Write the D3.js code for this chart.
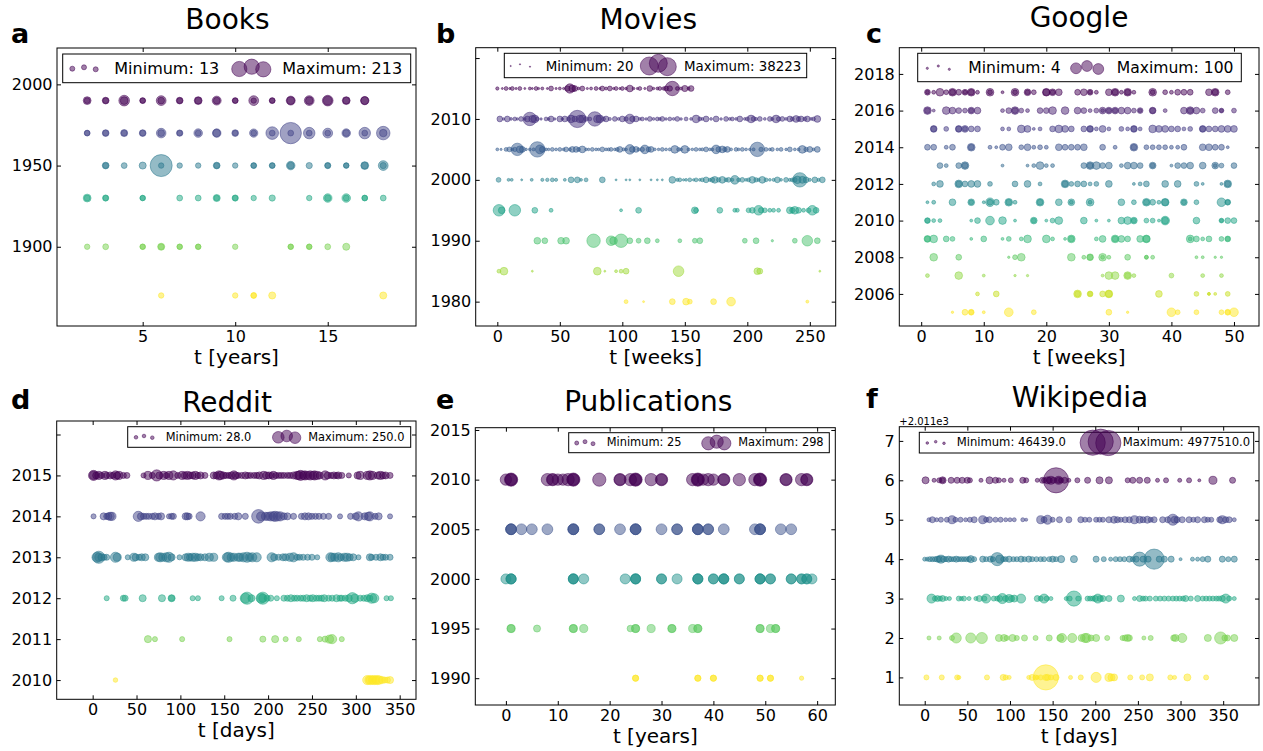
<!DOCTYPE html>
<html>
<head>
<meta charset="utf-8">
<script src="https://cdn.jsdelivr.net/npm/d3@7"></script>
<style>
  body { margin: 0; background: #fff; }
  svg { display: block; font-family: "DejaVu Sans", sans-serif; }
</style>
</head>
<body>
<script>
// ---- data: one row per year, each point is [t, count] ----

// a  Books
const booksYears = [1990, 1970, 1950, 1930, 1900, 1870];
const booksPoints = [
  [[2,27],[2,15],[3,20],[3,15],[4,50],[4,27],[5,15],[5,13],[6,42],[6,20],[7,20],[7,15],[8,27],[8,20],[9,35],[9,20],[10,15],[10,13],[11,42],[11,13],[12,15],[12,13],[13,35],[13,27],[14,42],[14,25],[15,50],[15,35],[16,27],[16,20],[17,30],[17,27]],
  [[2,15],[2,13],[3,20],[3,15],[4,22],[4,15],[5,20],[5,15],[6,40],[6,20],[7,18],[7,13],[8,32],[8,15],[9,32],[9,25],[10,20],[10,13],[11,30],[11,15],[12,70],[12,15],[13,200],[13,15],[14,58],[14,15],[15,42],[15,15],[16,32],[16,20],[17,58],[17,15],[18,80],[18,25]],
  [[3,20],[3,15],[4,15],[5,22],[6,213],[6,13],[7,13],[8,13],[9,20],[9,15],[10,13],[11,15],[11,13],[12,15],[12,13],[13,32],[13,20],[14,17],[15,17],[15,13],[16,13],[16,13],[17,27],[17,20],[18,42],[18,17]],
  [[2,27],[2,15],[3,17],[3,13],[5,13],[5,13],[7,15],[8,15],[9,22],[9,13],[10,17],[10,13],[11,13],[12,17],[14,13],[15,32],[15,17],[16,32],[16,15],[17,15],[17,13],[18,15]],
  [[2,13],[3,15],[5,13],[5,13],[6,22],[6,15],[7,13],[7,13],[8,13],[8,13],[10,13],[13,13],[13,13],[14,13],[14,13],[15,15],[16,22]],
  [[6,13],[10,13],[11,15],[11,13],[12,22],[18,22]]
];

// b  Movies
const moviesYears = [2015, 2010, 2005, 2000, 1995, 1990, 1985, 1980];
const moviesPoints = [
  [[0,1100],[4,400],[7,1500],[10,500],[12,1500],[15,500],[18,1500],[22,400],[26,900],[28,400],[31,1500],[33,500],[36,900],[40,400],[43,2400],[47,500],[50,900],[53,500],[56,3000],[58,9000],[60,5000],[62,3400],[65,800],[68,2400],[72,500],[75,900],[79,1500],[82,500],[84,2400],[87,900],[90,2400],[93,500],[95,1500],[98,500],[100,1500],[103,700],[106,4700],[109,700],[112,500],[114,1500],[118,500],[122,3400],[125,600],[128,900],[130,1500],[133,1200],[135,2400],[138,3000],[140,21500],[144,1500],[147,900],[150,4000],[153,900],[155,3400]],
  [[2,3400],[5,600],[8,3400],[11,800],[14,1500],[16,600],[19,2400],[22,700],[24,3400],[26,18700],[28,5000],[30,6100],[32,1500],[35,600],[39,1500],[41,700],[43,3400],[46,600],[50,3400],[52,700],[54,3400],[57,1500],[59,6100],[62,3400],[64,31000],[66,6000],[68,6100],[71,2000],[74,1500],[78,21500],[80,6000],[82,6100],[85,1500],[87,3400],[90,1000],[94,2400],[97,800],[100,3400],[103,2000],[106,9500],[108,3000],[111,3400],[114,800],[116,1500],[119,700],[122,2400],[125,800],[128,1500],[130,800],[132,2400],[135,700],[138,1500],[141,800],[144,2400],[147,700],[151,1500],[155,800],[159,6100],[162,1500],[164,800],[167,3400],[171,800],[175,3400],[179,700],[183,2400],[186,800],[188,1500],[191,800],[194,3400],[198,800],[200,1500],[203,6100],[205,2400],[207,1000],[210,2400],[214,800],[218,2400],[220,1000],[223,6100],[225,2000],[228,2400],[231,800],[234,3400],[236,1500],[239,4700],[241,2000],[243,3400],[246,1500],[248,3400],[251,800],[253,1500],[256,4700]],
  [[0,860],[3,500],[7,1530],[9.6,2400],[12,800],[14,2000],[16,16000],[18,5000],[20,3440],[23,700],[26,800],[29,1000],[32,24500],[34,8000],[36,3440],[39,800],[41,700],[44,1530],[47,800],[50,1530],[53,800],[55,2400],[58,1000],[60,3440],[63,3440],[65,1500],[68,4700],[71,800],[73,700],[76,1530],[79,800],[81,700],[84,2400],[87,800],[89,1000],[91,1530],[94,800],[96,1500],[98,3440],[101,1000],[103,800],[106,9500],[108,3400],[111,3440],[113,1000],[116,2000],[118,7700],[121,2500],[123,3440],[126,800],[129,700],[132,1530],[135,800],[138,1000],[142,6100],[145,1500],[147,900],[150,6100],[153,1000],[156,700],[159,1530],[162,800],[164,1000],[167,2400],[170,800],[172,1000],[175,7700],[177,3000],[180,4700],[182,2000],[184,3440],[187,900],[191,1530],[193,800],[196,1530],[199,800],[202,700],[205,1000],[208,21500],[211,2000],[215,1530],[218,800],[220,1530],[224,800],[227,1530],[231,700],[234,2400],[238,800],[241,1000],[244,6100],[247,2000],[250,3440],[253,800],[256,3440]],
  [[1,2400],[9,860],[11.5,860],[19.5,400],[27.5,860],[36,1000],[40,1200],[44,1530],[47,1000],[54,860],[59,3440],[64,3440],[67,800],[71,1530],[84,3440],[95,382],[103,382],[106,382],[114,382],[123,382],[128,382],[132,382],[140,4680],[144,1000],[146,1530],[149,600],[151,800],[154,1530],[157,600],[159,1530],[162,800],[164,1500],[167,3440],[170,1000],[172,2400],[174,4680],[177,2000],[180,4680],[183,1500],[185,2400],[188,1000],[190,7700],[193,1500],[196,2400],[199,800],[201,1500],[204,4680],[207,2000],[209,1000],[212,4680],[215,1500],[218,800],[221,1000],[224,3440],[227,800],[231,2400],[234,1000],[236,1500],[238,2400],[240,6000],[242,21500],[244,5000],[247,3440],[250,1000],[254,3440],[257,1000],[260,3440]],
  [[1.3,13760],[3.5,4680],[14,13760],[30,3440],[43,1530],[99,860],[113,3440],[158,4680],[159,2400],[178,3440],[190,1530],[192,1530],[201,2400],[204,3440],[209,9560],[211,3000],[214,2390],[218,1530],[221,1530],[225,1530],[234,4680],[236,3000],[238,6120],[241,3440],[245,1530],[249,2390],[252,9560],[255,3440]],
  [[32,4680],[38,3440],[51,4680],[55,4680],[77,18730],[91,9560],[93,6120],[99,18730],[106,3440],[113,2390],[120,3440],[128,1530],[146,1530],[158,2390],[162,3440],[198,2390],[207,3440],[220,550],[238,2390],[248,11560],[256,3440]],
  [[1.3,1530],[5.3,6120],[28,382],[80,6120],[86,382],[95,860],[99,1530],[103,3440],[145,11560],[208,4680],[210,3440],[258,382]],
  [[103,1530],[117,382],[140,3440],[151,4680],[154,2390],[173,3440],[187,7740],[248,860]]
];

// c  Google
const googleYears = [2017, 2016, 2015, 2014, 2013, 2012, 2011, 2010, 2009, 2008, 2007, 2006, 2005];
const googlePoints = [
  [[1,36],[1,16],[2,16],[3,64],[4,25],[5,64],[5,36],[6,36],[7,36],[7,16],[8,64],[8,36],[9,16],[11,64],[11,25],[13,9],[15,64],[15,25],[17,49],[17,25],[18,25],[20,64],[20,49],[21,49],[21,25],[22,49],[25,36],[26,49],[27,36],[27,16],[28,16],[30,49],[31,64],[31,36],[32,16],[33,64],[33,36],[34,16],[37,64],[37,25],[39,25],[40,16],[41,36],[42,36],[43,36],[46,49],[47,64],[47,36],[49,25]],
  [[1,64],[1,36],[2,9],[4,64],[5,49],[6,36],[7,25],[8,49],[8,25],[9,49],[13,16],[14,36],[15,64],[15,36],[16,25],[17,16],[19,36],[20,36],[21,64],[23,64],[25,49],[26,36],[27,16],[28,25],[29,49],[29,16],[30,49],[30,25],[31,49],[31,25],[32,49],[33,49],[34,25],[35,36],[35,16],[37,49],[37,36],[39,16],[42,49],[43,64],[43,36],[44,49],[45,25],[47,36],[48,25],[48,16],[50,25]],
  [[2,49],[2,36],[4,25],[6,49],[6,36],[7,49],[7,25],[8,36],[9,36],[13,16],[14,16],[16,64],[17,49],[18,9],[19,16],[21,36],[22,64],[23,49],[24,36],[26,36],[27,49],[27,36],[28,16],[29,49],[30,16],[32,25],[33,16],[34,49],[34,36],[35,16],[37,64],[38,49],[39,49],[40,36],[41,36],[42,16],[43,25],[45,49],[45,36],[46,36],[47,36],[48,49],[49,49],[50,49]],
  [[1,36],[2,36],[4,16],[5,36],[8,64],[8,36],[11,16],[12,9],[13,36],[14,49],[16,25],[17,49],[18,16],[19,25],[20,16],[22,49],[23,36],[24,36],[25,36],[26,49],[29,36],[31,16],[34,64],[34,36],[36,25],[37,25],[38,25],[39,25],[40,16],[41,16],[42,36],[45,49],[46,49],[47,36],[48,36],[49,9]],
  [[3,36],[4,16],[6,36],[7,64],[7,36],[13,9],[17,9],[18,16],[19,64],[20,16],[21,16],[26,36],[27,64],[27,36],[28,64],[29,36],[30,49],[32,16],[33,49],[34,49],[35,36],[37,49],[37,25],[40,9],[41,36],[42,36],[43,49],[45,49],[47,49],[47,16],[48,25],[50,36]],
  [[2,16],[3,49],[6,64],[6,36],[7,36],[8,49],[9,49],[11,25],[15,36],[17,49],[19,16],[23,64],[23,36],[24,25],[25,36],[26,36],[27,16],[28,25],[30,49],[34,9],[35,16],[36,36],[39,49],[41,49],[44,25],[45,9],[48,9],[49,64],[49,36]],
  [[1,9],[2,16],[5,49],[8,49],[8,25],[10,9],[11,81],[11,36],[12,36],[14,64],[14,36],[15,16],[19,64],[19,36],[22,49],[24,49],[24,16],[27,64],[27,16],[32,49],[34,25],[36,64],[36,36],[37,36],[38,16],[39,64],[39,49],[42,49],[42,25],[44,25],[48,81],[49,36],[49,25]],
  [[1,36],[1,25],[2,16],[3,16],[8,9],[9,36],[11,81],[13,64],[15,9],[18,49],[18,25],[20,9],[21,25],[22,64],[26,49],[28,9],[30,9],[32,49],[33,64],[34,49],[34,25],[36,25],[37,25],[38,9],[39,81],[39,49],[44,49],[48,25],[48,16],[49,36],[50,36]],
  [[1,49],[1,36],[2,64],[4,36],[5,25],[8,9],[10,36],[13,9],[14,25],[16,16],[17,64],[20,64],[21,16],[23,9],[24,64],[24,36],[28,16],[29,49],[31,64],[31,36],[32,49],[33,36],[35,49],[36,64],[36,49],[43,64],[43,16],[44,36],[45,16],[46,36],[48,25],[49,36],[49,25]],
  [[2,64],[6,36],[14,6],[15,25],[16,64],[24,64],[26,16],[27,49],[27,36],[29,64],[29,16],[30,16],[33,36],[36,16],[36,16],[37,16],[44,9],[45,9],[47,6],[48,6]],
  [[1,16],[6,64],[10,9],[15,6],[17,6],[29,9],[30,64],[31,64],[33,64],[33,36],[34,16],[40,25],[45,16],[48,16]],
  [[9,16],[12,36],[25,64],[25,36],[27,36],[27,25],[29,36],[30,64],[30,49],[38,49],[44,25],[46,9],[46,9],[47,9],[49,25]],
  [[5,6],[7,36],[8,36],[8,25],[10,9],[14,81],[18,25],[30,36],[33,6],[40,81],[41,25],[44,25],[48,25],[49,36],[49,25],[50,81]]
];

// d  Reddit
const redditYears = [2015, 2014, 2013, 2012, 2011, 2010];
const redditPoints = [
  [[1,139],[1,89],[4,68],[7,89],[10,50],[14,89],[16,50],[20,68],[23,50],[26,113],[28,68],[30,89],[35,50],[39,50],[58,35],[63,89],[68,50],[73,169],[76,68],[81,89],[84,50],[87,89],[92,113],[97,50],[102,89],[105,68],[108,89],[111,68],[114,68],[117,89],[120,50],[123,68],[128,50],[138,68],[141,68],[144,113],[146,89],[149,68],[152,50],[155,50],[158,68],[161,113],[163,68],[166,50],[170,50],[174,68],[177,50],[180,50],[184,50],[187,50],[190,68],[195,89],[198,68],[201,68],[204,50],[206,89],[209,50],[212,50],[215,50],[218,50],[222,50],[225,50],[229,68],[233,89],[235,89],[237,139],[240,89],[242,113],[245,89],[248,113],[251,89],[253,113],[256,89],[259,68],[265,113],[268,68],[272,50],[275,68],[278,50],[280,68],[284,50],[292,35],[302,68],[305,89],[313,89],[316,113],[319,89],[325,68],[328,89],[331,68],[334,68],[339,50]],
  [[1,35],[12.5,68],[16,50],[18,68],[20,89],[22,89],[52,139],[55,68],[58,50],[61,50],[64,50],[68,50],[71,68],[75,50],[78,68],[87,35],[90,50],[92,50],[106,68],[108,68],[110,50],[123,113],[147,50],[151,50],[154,50],[157,50],[162,50],[166,68],[174,50],[189,250],[192,113],[197,89],[200,89],[203,113],[206,113],[208,139],[211,113],[214,113],[218,68],[222,68],[229,50],[238,50],[242,68],[246,68],[250,50],[254,50],[258,50],[263,50],[269,50],[282,35],[294,50],[300,68],[303,113],[310,68],[314,89],[316,113],[322,50],[326,68],[339,35]],
  [[5,139],[7,200],[7,89],[10,68],[13,50],[16,50],[26,139],[28,89],[40,35],[47,89],[49,68],[53,50],[56,68],[60,68],[75,89],[77,113],[80,89],[84,113],[87,139],[90,68],[99,35],[106,68],[109,89],[111,68],[114,89],[117,89],[120,68],[123,68],[128,68],[133,89],[138,89],[153,113],[155,139],[158,89],[161,89],[166,89],[168,89],[172,113],[176,139],[179,89],[182,113],[187,113],[204,113],[207,68],[212,50],[217,68],[220,68],[225,89],[229,113],[233,50],[236,50],[240,50],[245,50],[250,50],[256,35],[271,113],[273,89],[276,89],[280,113],[283,68],[287,89],[290,89],[293,68],[297,68],[303,35],[316,68],[318,50],[323,50],[328,68],[331,50],[334,50],[339,50]],
  [[16,35],[35,50],[37,50],[57,68],[79,68],[90,68],[90,50],[114,35],[120,35],[147,35],[160,50],[174,139],[176,200],[181,68],[192,139],[194,200],[194,89],[199,50],[203,50],[210,35],[218,50],[222,50],[226,68],[230,50],[233,50],[237,50],[240,50],[244,68],[248,50],[251,68],[255,50],[258,50],[261,50],[264,68],[269,50],[273,50],[278,68],[282,50],[284,50],[288,50],[292,68],[296,169],[299,89],[305,50],[309,50],[313,68],[316,50],[318,139],[321,113],[335,35],[340,35]],
  [[63,68],[71,35],[102,35],[156,35],[194,50],[208,68],[220,35],[235,35],[259,35],[265,50],[270,89],[273,113],[284,35]],
  [[26,28],[313,113],[315,89],[317,113],[319,89],[321,113],[323,89],[325,113],[327,89],[330,68],[333,50],[336,50],[339,68]]
];

// e  Publications
const pubsYears = [2010, 2005, 2000, 1995, 1990];
const pubsPoints = [
  [[0,207],[1,243],[1,207],[1,282],[8,243],[9,243],[9,207],[10,207],[11,207],[12,243],[13,282],[13,243],[13,207],[18,282],[22,243],[22,207],[24,243],[25,282],[25,243],[25,207],[28,243],[30,243],[30,207],[36,243],[37,282],[37,243],[37,207],[38,207],[39,243],[40,207],[42,243],[42,207],[45,243],[48,243],[49,282],[49,243],[49,207],[54,243],[54,207],[57,243],[58,243],[58,207]],
  [[1,190],[1,187],[1,180],[3,187],[5,187],[8,187],[13,190],[13,187],[13,180],[18,187],[18,180],[22,187],[25,190],[25,187],[25,180],[30,187],[33,187],[33,180],[37,190],[37,187],[37,180],[39,187],[39,180],[42,187],[48,187],[49,190],[49,187],[49,180],[53,187],[55,187]],
  [[0,162],[1,165],[1,162],[1,158],[13,165],[13,162],[13,158],[15,162],[23,162],[25,165],[25,162],[25,158],[30,162],[30,158],[33,162],[37,165],[37,162],[37,158],[40,162],[40,158],[42,165],[42,162],[42,158],[45,162],[45,158],[49,165],[49,162],[49,158],[51,162],[51,158],[55,162],[55,158],[57,162],[57,158],[58,162],[58,158],[59,162]],
  [[1,106],[1,100],[6,80],[13,106],[13,100],[15,106],[24,70],[25,106],[25,100],[28,106],[32,106],[32,100],[36,106],[37,106],[37,100],[49,106],[49,100],[51,106],[52,106],[52,100]],
  [[25,63],[25,60],[37,63],[37,60],[40,63],[40,60],[49,63],[49,60],[51,63],[51,60],[57,30]]
];

// f  Wikipedia
const wikiYears = [2017, 2016, 2015, 2014, 2013, 2012];
const wikiPoints = [
  [[1,378000],[11,123000],[17,193000],[21,378000],[21,193000],[31,278000],[38,278000],[44,278000],[50,278000],[53,193000],[66,123000],[76,378000],[83,278000],[87,193000],[93,123000],[101,193000],[115,278000],[119,193000],[132,123000],[138,278000],[140,193000],[144,378000],[146,278000],[148,494000],[151,278000],[154,4820000],[157,494000],[157,278000],[160,193000],[164,278000],[169,123000],[179,193000],[191,278000],[205,378000],[216,378000],[238,193000],[244,278000],[252,278000],[261,278000],[273,123000],[283,193000],[299,123000],[310,193000],[322,69000],[338,494000],[361,278000]],
  [[5,123000],[9,278000],[14,123000],[19,193000],[26,193000],[32,494000],[36,193000],[42,193000],[48,123000],[53,193000],[58,278000],[68,494000],[72,193000],[76,278000],[83,193000],[89,193000],[95,123000],[100,123000],[105,123000],[115,123000],[119,69000],[136,494000],[140,278000],[144,625000],[150,193000],[158,278000],[169,278000],[183,278000],[188,193000],[193,193000],[201,193000],[205,193000],[209,193000],[216,278000],[222,378000],[226,278000],[230,193000],[235,278000],[240,278000],[246,494000],[252,378000],[256,278000],[261,378000],[265,193000],[269,278000],[279,278000],[285,278000],[291,934000],[293,378000],[296,278000],[302,278000],[310,278000],[315,193000],[320,278000],[328,278000],[332,193000],[336,193000],[346,278000],[349,494000],[353,278000],[357,278000],[363,123000]],
  [[0,123000],[3,123000],[6,193000],[9,193000],[12,193000],[15,278000],[17,278000],[19,494000],[22,278000],[25,193000],[28,278000],[31,193000],[34,193000],[37,278000],[40,193000],[43,193000],[46,193000],[49,193000],[52,193000],[54,378000],[58,193000],[68,278000],[72,193000],[77,278000],[80,193000],[85,1300000],[88,494000],[92,193000],[95,193000],[99,278000],[104,193000],[108,193000],[113,278000],[117,193000],[122,278000],[126,193000],[131,193000],[136,193000],[140,193000],[146,193000],[150,278000],[154,193000],[160,378000],[175,378000],[201,278000],[210,193000],[218,123000],[224,193000],[229,193000],[234,193000],[240,278000],[244,193000],[248,278000],[252,1510000],[256,278000],[262,278000],[269,3090000],[275,278000],[281,278000],[289,278000],[300,69000],[314,123000],[320,123000],[326,193000],[332,278000],[349,278000],[356,193000],[363,278000]],
  [[8,625000],[12,193000],[15,278000],[18,193000],[21,278000],[25,123000],[29,123000],[40,193000],[43,123000],[46,193000],[52,123000],[60,123000],[64,278000],[70,193000],[72,625000],[81,193000],[85,193000],[88,278000],[91,771000],[95,278000],[99,494000],[102,278000],[105,378000],[113,625000],[132,278000],[136,193000],[140,625000],[143,193000],[148,123000],[166,123000],[170,193000],[175,1740000],[180,193000],[191,193000],[194,193000],[197,193000],[200,278000],[203,625000],[206,278000],[209,278000],[216,278000],[230,378000],[246,123000],[252,278000],[256,193000],[259,193000],[264,193000],[271,193000],[276,193000],[281,193000],[286,193000],[291,193000],[295,193000],[299,193000],[303,193000],[306,278000],[312,193000],[320,278000],[326,193000],[330,193000],[334,193000],[338,193000],[342,193000],[345,193000],[349,278000],[353,625000],[357,193000],[363,123000]],
  [[5,123000],[17,123000],[32,193000],[37,771000],[54,771000],[67,934000],[87,378000],[93,378000],[96,193000],[103,378000],[108,193000],[117,278000],[130,193000],[146,278000],[159,378000],[161,625000],[173,625000],[184,378000],[188,625000],[190,625000],[195,278000],[201,378000],[214,193000],[232,193000],[235,278000],[238,378000],[240,278000],[257,123000],[265,193000],[292,278000],[294,378000],[302,625000],[332,378000],[347,1110000],[352,278000],[355,278000],[363,378000]],
  [[2,193000],[20,193000],[38,193000],[40,123000],[73,193000],[92,278000],[95,193000],[99,123000],[122,123000],[126,278000],[130,193000],[132,123000],[136,193000],[142,4820000],[142,278000],[144,278000],[148,193000],[154,278000],[171,123000],[183,193000],[201,771000],[216,494000],[219,378000],[222,378000],[241,193000],[255,193000],[264,378000],[288,193000],[293,123000],[308,378000],[330,193000]]
];

// legend extremes (as printed)
const legendMin = ["13", "20", "4", "28.0", "25", "46439.0"];
const legendMax = ["213", "38223", "100", "250.0", "298", "4977510.0"];
const titles = ["Books", "Movies", "Google", "Reddit", "Publications", "Wikipedia"];
const letters = ["a", "b", "c", "d", "e", "f"];
const xLabels = ["t [years]", "t [weeks]", "t [weeks]", "t [days]", "t [years]", "t [days]"];

// ---- layout ----
const panels = [
  { years: booksYears, points: booksPoints, vmax: 213, rmax: 11,
    box: [57, 48, 416, 326], xDomain: [0.37, 19.77], yDomain: [1851.2, 2022.4],
    xTicks: [5, 10, 15], yTicks: [1900, 1950, 2000], yHide: [],
    title: [227.5, 29.3], letter: [11, 42.7],
    legend: { box: [62.7, 54, 410.7, 82.7], font: 16, base: 74, minX: 114.3, maxX: 282.3,
      small: [[72.3, 68.7, 2.5], [84, 67.3, 2.5], [95.7, 69.3, 2.5]],
      big: [[239.3, 69, 7.6], [251.7, 66.7, 7.6], [263.3, 69.3, 7.6]] } },
  { years: moviesYears, points: moviesPoints, vmax: 38223, rmax: 9.6,
    box: [475.7, 47.7, 835.7, 326], xDomain: [-17.3, 270.7], yDomain: [1976, 2021.7],
    xTicks: [0, 50, 100, 150, 200, 250], yTicks: [1980, 1990, 2000, 2010, 2020], yHide: [2020],
    title: [648.3, 29.3], letter: [436, 43.3],
    legend: { box: [504.3, 53.3, 806.7, 77.7], font: 13.4, base: 70.5, minX: 545.7, maxX: 684,
      small: [[510.7, 66, 0.6], [520, 64.3, 0.6], [530, 66.7, 0.6]],
      big: [[649.3, 66, 9], [658.3, 63.3, 9], [667.3, 66.7, 9]] } },
  { years: googleYears, points: googlePoints, vmax: 100, rmax: 4.8,
    box: [899.3, 47.7, 1259, 326], xDomain: [-3.5, 54], yDomain: [2004.25, 2019.43],
    xTicks: [0, 10, 20, 30, 40, 50], yTicks: [2006, 2008, 2010, 2012, 2014, 2016, 2018], yHide: [],
    title: [1079, 27], letter: [866, 43.3],
    legend: { box: [917.7, 53.3, 1241.3, 81.7], font: 15.6, base: 73.3, minX: 968.3, maxX: 1116.7,
      small: [[927.3, 68.3, 1.1], [938.3, 66, 1.1], [949.3, 69.3, 1.1]],
      big: [[1076, 68.3, 5.4], [1087, 66, 5.4], [1098.3, 69, 5.4]] } },
  { years: redditYears, points: redditPoints, vmax: 250, rmax: 6.8,
    box: [56.7, 421, 416, 699.3], xDomain: [-41, 368.6], yDomain: [2009.53, 2016.33],
    xTicks: [0, 50, 100, 150, 200, 250, 300, 350], yTicks: [2010, 2011, 2012, 2013, 2014, 2015, 2016], yHide: [2016],
    title: [227, 411.5], letter: [11, 409.3],
    legend: { box: [127.7, 426.7, 410.7, 447.3], font: 11.4, base: 440.7, minX: 165.7, maxX: 308.3,
      small: [[136, 437.3, 1.8], [144, 436, 1.8], [152.3, 437.7, 1.8]],
      big: [[278.3, 437.3, 5.8], [286.7, 436, 5.8], [295, 437.7, 5.8]] } },
  { years: pubsYears, points: pubsPoints, vmax: 298, rmax: 6.8,
    box: [475.3, 427.7, 835.3, 705], xDomain: [-5.9, 63.5], yDomain: [1987.3, 2015.23],
    xTicks: [0, 10, 20, 30, 40, 50, 60], yTicks: [1990, 1995, 2000, 2005, 2010, 2015], yHide: [],
    title: [648.3, 410.5], letter: [436, 409.3],
    legend: { box: [568.7, 432.7, 829.3, 452.7], font: 11.4, base: 446, minX: 606.7, maxX: 738.3,
      small: [[576.7, 443, 2], [585, 441.7, 2], [593, 443.7, 2]],
      big: [[708.3, 443.3, 6.6], [716.7, 441.7, 6.6], [724.3, 443.3, 6.6]] } },
  { years: wikiYears, points: wikiPoints, vmax: 4977510, rmax: 12.8,
    box: [899.3, 426.7, 1259, 705], xDomain: [-29.8, 392], yDomain: [2011.3, 2018.36],
    xTicks: [0, 50, 100, 150, 200, 250, 300, 350], yTicks: [2012, 2013, 2014, 2015, 2016, 2017, 2018], yHide: [],
    yFormat: d => d - 2011, offsetText: "+2.011e3",
    title: [1080, 406.5], letter: [866, 408.3],
    legend: { box: [919.3, 432.3, 1253.7, 453], font: 11.6, base: 445.7, minX: 956.7, maxX: 1122.7,
      small: [[927.3, 443, 1.3], [935.7, 441.7, 1.3], [944, 443.3, 1.3]],
      big: [[1092.7, 442.7, 12.6], [1100.7, 441.7, 12.6], [1108.3, 443, 12.6]] } }
];

const FONT = "DejaVu Sans";
const svg = d3.select("body").append("svg").attr("width", 1263).attr("height", 751);

// scatter marks: fill and a 1px rim of the same colour, both half transparent
function dot(sel, color) {
  sel.attr("fill", color).attr("fill-opacity", 0.5)
     .attr("stroke", color).attr("stroke-opacity", 0.5).attr("stroke-width", 1);
}

function drawPanel(p, k) {
  const [x0, y0, x1, y1] = p.box;
  const x = d3.scaleLinear().domain(p.xDomain).range([x0, x1]);
  const y = d3.scaleLinear().domain(p.yDomain).range([y1, y0]);
  const r = d3.scaleSqrt().domain([0, p.vmax]).range([0, p.rmax]);
  const n = p.years.length;
  const g = svg.append("g");

  svg.append("clipPath").attr("id", "clip" + k).append("rect")
    .attr("x", x0).attr("y", y0).attr("width", x1 - x0).attr("height", y1 - y0);

  // one viridis colour per row, top row = 0
  const dots = g.append("g").attr("clip-path", `url(#clip${k})`);
  p.years.forEach((yr, i) => {
    const c = d3.interpolateViridis(i / (n - 1));
    dots.append("g").selectAll("circle")
      .data(p.points[i])
      .join("circle")
      .attr("cx", d => x(d[0]))
      .attr("cy", y(yr))
      .attr("r", d => r(d[1]))
      .call(dot, c);
  });

  // ticks point inwards on all four sides
  const yFmt = p.yFormat || (d => p.yHide.includes(d) ? "" : d);
  g.append("g").attr("transform", `translate(0,${y1})`)
    .call(d3.axisBottom(x).tickValues(p.xTicks).tickSize(-4).tickSizeOuter(0).tickPadding(4.5).tickFormat(d => d));
  g.append("g").attr("transform", `translate(0,${y0})`)
    .call(d3.axisTop(x).tickValues(p.xTicks).tickSize(-4).tickSizeOuter(0).tickFormat(""));
  g.append("g").attr("transform", `translate(${x0},0)`)
    .call(d3.axisLeft(y).tickValues(p.yTicks).tickSize(-4).tickSizeOuter(0).tickPadding(4.5).tickFormat(yFmt));
  g.append("g").attr("transform", `translate(${x1},0)`)
    .call(d3.axisRight(y).tickValues(p.yTicks).tickSize(-4).tickSizeOuter(0).tickFormat(""));
  g.selectAll(".domain").remove();
  g.selectAll(".tick line").attr("stroke", "#000");
  g.selectAll(".tick text").attr("font-family", FONT).attr("font-size", 16).attr("fill", "#000");

  g.append("rect")
    .attr("x", x0).attr("y", y0).attr("width", x1 - x0).attr("height", y1 - y0)
    .attr("fill", "none").attr("stroke", "#000").attr("stroke-width", 1);

  if (p.offsetText) {
    g.append("text").attr("x", x0).attr("y", y0 - 2)
      .attr("font-family", FONT).attr("font-size", 10).text(p.offsetText);
  }

  // legend
  const L = p.legend;
  const lg = g.append("g");
  lg.append("rect")
    .attr("x", L.box[0]).attr("y", L.box[1])
    .attr("width", L.box[2] - L.box[0]).attr("height", L.box[3] - L.box[1])
    .attr("fill", "#fff").attr("stroke", "#000");
  lg.selectAll("circle").data(L.small.concat(L.big)).join("circle")
    .attr("cx", d => d[0]).attr("cy", d => d[1]).attr("r", d => d[2])
    .call(dot, d3.interpolateViridis(0));
  lg.append("text").attr("x", L.minX).attr("y", L.base)
    .attr("font-family", FONT).attr("font-size", L.font).text("Minimum: " + legendMin[k]);
  lg.append("text").attr("x", L.maxX).attr("y", L.base)
    .attr("font-family", FONT).attr("font-size", L.font).text("Maximum: " + legendMax[k]);

  // titles and labels
  g.append("text").attr("x", p.title[0]).attr("y", p.title[1])
    .attr("text-anchor", "middle").attr("font-family", FONT).attr("font-size", 28)
    .text(titles[k]);
  g.append("text").attr("x", p.letter[0]).attr("y", p.letter[1])
    .attr("font-family", FONT).attr("font-size", 27).attr("font-weight", "bold")
    .text(letters[k]);
  g.append("text").attr("x", (x0 + x1) / 2).attr("y", y1 + 37.5)
    .attr("text-anchor", "middle").attr("font-family", FONT).attr("font-size", 20)
    .text(xLabels[k]);
}

panels.forEach(drawPanel);
</script>
</body>
</html>
